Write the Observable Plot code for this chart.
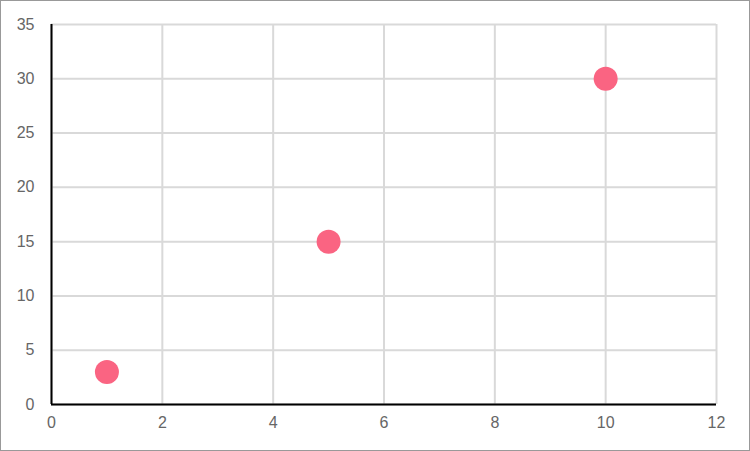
<!DOCTYPE html>
<html>
<head>
<meta charset="utf-8">
<script src="https://cdn.jsdelivr.net/npm/d3@7"></script>
<script src="https://cdn.jsdelivr.net/npm/@observablehq/plot@0.6"></script>
<style>
  body { margin: 0; background: white; }
  #chart svg { display: block; outline: 1px solid #999; outline-offset: -1px; }
</style>
</head>
<body>
<div id="chart"></div>
<script>
const xValues = [1, 5, 10];
const yValues = [3, 15, 30];
const xTicks = [0, 2, 4, 6, 8, 10, 12];
const yTicks = [0, 5, 10, 15, 20, 25, 30, 35];

const data = xValues.map((x, i) => ({x, y: yValues[i]}));

const chart = Plot.plot({
  width: 750,
  height: 451,
  marginLeft: 51,
  marginRight: 34,
  marginTop: 24,
  marginBottom: 47,
  x: {domain: [0, 12]},
  y: {domain: [0, 35]},
  style: {fontFamily: "'Liberation Sans', Arial, sans-serif", fontSize: "16px", color: "#666", background: "white"},
  marks: [
    Plot.gridX(xTicks, {stroke: "#d9d9d9", strokeOpacity: 1, strokeWidth: 2}),
    Plot.gridY(yTicks, {stroke: "#d9d9d9", strokeOpacity: 1, strokeWidth: 2}),
    Plot.axisX(xTicks, {tickSize: 0, tickPadding: 12, label: null, fill: "#666"}),
    Plot.axisY(yTicks, {tickSize: 0, tickPadding: 17, label: null, fill: "#666"}),
    Plot.ruleX([0], {stroke: "black", strokeWidth: 2}),
    Plot.ruleY([0], {stroke: "black", strokeWidth: 2}),
    Plot.dot(data, {x: "x", y: "y", r: 12, fill: "rgb(250,100,130)", stroke: null})
  ]
});
document.getElementById("chart").append(chart);
</script>
</body>
</html>
